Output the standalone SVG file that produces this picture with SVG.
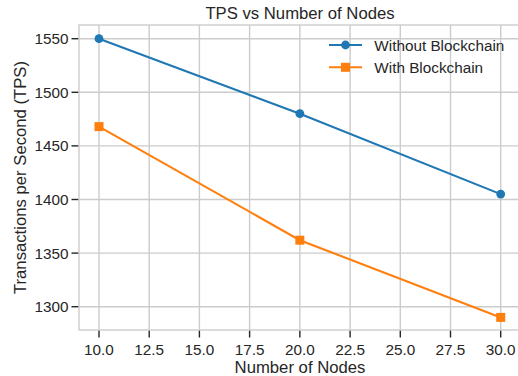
<svg xmlns="http://www.w3.org/2000/svg" width="518" height="376" viewBox="0 0 518 376">
<style>
text{font-family:"Liberation Sans",Arial,sans-serif;fill:#262626}
.tick{font-size:15.3px}
.lab{font-size:16.7px}
.grid line{stroke:#cccccc;stroke-width:1.4}
.tk line{stroke:#262626;stroke-width:1.4}
.blue{stroke:#1f77b4;stroke-width:2.1;fill:none}
.orange{stroke:#ff7f0e;stroke-width:2.1;fill:none}
</style>
<defs>
<circle id="mc" r="4.4" fill="#1f77b4"/>
<rect id="ms" x="-4.5" y="-4.5" width="9" height="9" fill="#ff7f0e"/>
</defs>
<rect width="518" height="376" fill="#ffffff"/>
<g id="grid" class="grid">
<line x1="99" y1="25" x2="99" y2="330"/>
<line x1="149.2" y1="25" x2="149.2" y2="330"/>
<line x1="199.4" y1="25" x2="199.4" y2="330"/>
<line x1="249.6" y1="25" x2="249.6" y2="330"/>
<line x1="299.85" y1="25" x2="299.85" y2="330"/>
<line x1="350.1" y1="25" x2="350.1" y2="330"/>
<line x1="400.3" y1="25" x2="400.3" y2="330"/>
<line x1="450.5" y1="25" x2="450.5" y2="330"/>
<line x1="500.7" y1="25" x2="500.7" y2="330"/>
<line x1="79" y1="306.7" x2="521" y2="306.7"/>
<line x1="79" y1="253.1" x2="521" y2="253.1"/>
<line x1="79" y1="199.5" x2="521" y2="199.5"/>
<line x1="79" y1="145.9" x2="521" y2="145.9"/>
<line x1="79" y1="92.3" x2="521" y2="92.3"/>
<line x1="79" y1="38.7" x2="521" y2="38.7"/>
</g>
<rect id="frame" x="79" y="25" width="442" height="305" fill="none" stroke="#cccccc" stroke-width="1.4"/>
<g id="ticks" class="tk">
<line x1="71.5" y1="306.7" x2="78.3" y2="306.7"/>
<line x1="71.5" y1="253.1" x2="78.3" y2="253.1"/>
<line x1="71.5" y1="199.5" x2="78.3" y2="199.5"/>
<line x1="71.5" y1="145.9" x2="78.3" y2="145.9"/>
<line x1="71.5" y1="92.3" x2="78.3" y2="92.3"/>
<line x1="71.5" y1="38.7" x2="78.3" y2="38.7"/>
<line x1="99" y1="330.7" x2="99" y2="337.5"/>
<line x1="149.2" y1="330.7" x2="149.2" y2="337.5"/>
<line x1="199.4" y1="330.7" x2="199.4" y2="337.5"/>
<line x1="249.6" y1="330.7" x2="249.6" y2="337.5"/>
<line x1="299.85" y1="330.7" x2="299.85" y2="337.5"/>
<line x1="350.1" y1="330.7" x2="350.1" y2="337.5"/>
<line x1="400.3" y1="330.7" x2="400.3" y2="337.5"/>
<line x1="450.5" y1="330.7" x2="450.5" y2="337.5"/>
<line x1="500.7" y1="330.7" x2="500.7" y2="337.5"/>
</g>
<g id="yticklabels" class="tick" text-anchor="end">
<text class="tick" x="68.5" y="312.2">1300</text>
<text class="tick" x="68.5" y="258.6">1350</text>
<text class="tick" x="68.5" y="205">1400</text>
<text class="tick" x="68.5" y="151.4">1450</text>
<text class="tick" x="68.5" y="97.8">1500</text>
<text class="tick" x="68.5" y="44.2">1550</text>
</g>
<g id="xticklabels" text-anchor="middle">
<text class="tick" x="99" y="355.3">10.0</text>
<text class="tick" x="149.2" y="355.3">12.5</text>
<text class="tick" x="199.4" y="355.3">15.0</text>
<text class="tick" x="249.6" y="355.3">17.5</text>
<text class="tick" x="299.85" y="355.3">20.0</text>
<text class="tick" x="350.1" y="355.3">22.5</text>
<text class="tick" x="400.3" y="355.3">25.0</text>
<text class="tick" x="450.5" y="355.3">27.5</text>
<text class="tick" x="500.7" y="355.3">30.0</text>
</g>
<text id="title" class="lab" x="300" y="18.5" text-anchor="middle">TPS vs Number of Nodes</text>
<text id="xlabel" class="lab" x="300" y="372.5" text-anchor="middle">Number of Nodes</text>
<text id="ylabel" class="lab" text-anchor="middle" transform="translate(26,177.5) rotate(-90)">Transactions per Second (TPS)</text>
<g id="connectors">
<polyline class="blue" points="99,38.7 299.85,113.7 500.7,194.1"/>
<polyline class="orange" points="99,126.6 299.85,240.2 500.7,317.4"/>
</g>
<g id="series-without">
<use href="#mc" x="99" y="38.7"/>
<use href="#mc" x="299.85" y="113.7"/>
<use href="#mc" x="500.7" y="194.1"/>
</g>
<g id="series-with">
<use href="#ms" x="99" y="126.6"/>
<use href="#ms" x="299.85" y="240.2"/>
<use href="#ms" x="500.7" y="317.4"/>
</g>
<g id="legend">
<line class="blue" x1="329" y1="45" x2="362" y2="45"/>
<use href="#mc" x="345.5" y="45"/>
<text class="tick" x="374.3" y="50.5">Without Blockchain</text>
<line class="orange" x1="329" y1="67.3" x2="362" y2="67.3"/>
<use href="#ms" x="345.5" y="67.3"/>
<text class="tick" x="374.3" y="72.8">With Blockchain</text>
</g>
</svg>
